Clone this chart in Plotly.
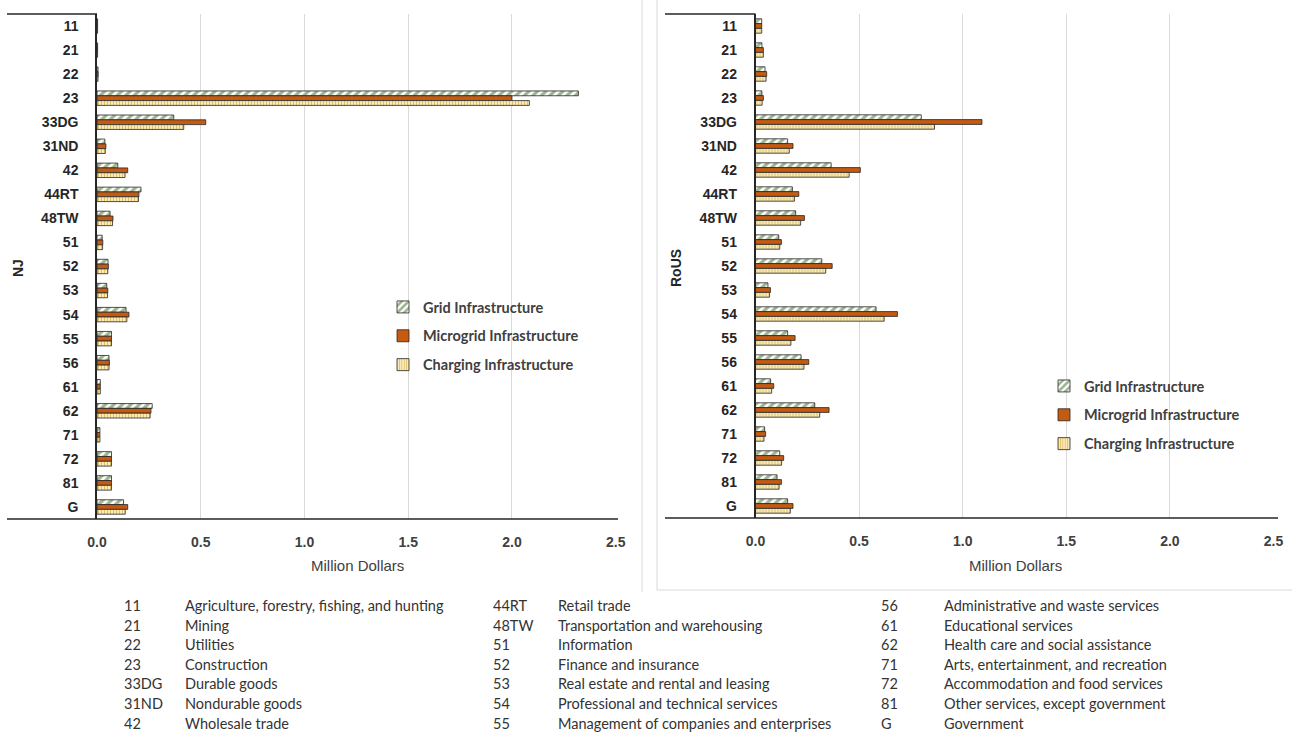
import plotly.graph_objects as go

categories = ["11", "21", "22", "23", "33DG", "31ND", "42", "44RT", "48TW", "51", "52",
              "53", "54", "55", "56", "61", "62", "71", "72", "81", "G"]
descriptions = ["Agriculture, forestry, fishing, and hunting", "Mining", "Utilities", "Construction",
                "Durable goods", "Nondurable goods", "Wholesale trade", "Retail trade",
                "Transportation and warehousing", "Information", "Finance and insurance",
                "Real estate and rental and leasing", "Professional and technical services",
                "Management of companies and enterprises", "Administrative and waste services",
                "Educational services", "Health care and social assistance",
                "Arts, entertainment, and recreation", "Accommodation and food services",
                "Other services, except government", "Government"]

series_names = ["Grid Infrastructure", "Microgrid Infrastructure", "Charging Infrastructure"]

nj_grid =      [0.003, 0.003, 0.005, 2.32, 0.37, 0.038, 0.10, 0.212, 0.063, 0.025, 0.053,
                0.047, 0.14, 0.07, 0.058, 0.016, 0.266, 0.014, 0.07, 0.07, 0.128]
nj_microgrid = [0.003, 0.003, 0.006, 2.00, 0.524, 0.043, 0.148, 0.202, 0.077, 0.028, 0.055,
                0.052, 0.154, 0.07, 0.06, 0.016, 0.26, 0.014, 0.07, 0.07, 0.148]
nj_charging =  [0.003, 0.003, 0.005, 2.084, 0.418, 0.04, 0.135, 0.20, 0.075, 0.027, 0.052,
                0.051, 0.144, 0.07, 0.058, 0.016, 0.256, 0.014, 0.07, 0.07, 0.136]

rous_grid =      [0.030, 0.031, 0.046, 0.031, 0.80, 0.155, 0.365, 0.178, 0.194, 0.112, 0.32,
                  0.060, 0.582, 0.155, 0.22, 0.073, 0.286, 0.044, 0.117, 0.104, 0.155]
rous_microgrid = [0.030, 0.038, 0.054, 0.038, 1.093, 0.181, 0.506, 0.209, 0.236, 0.125, 0.37,
                  0.072, 0.685, 0.191, 0.257, 0.088, 0.355, 0.049, 0.136, 0.125, 0.181]
rous_charging =  [0.030, 0.038, 0.051, 0.032, 0.864, 0.163, 0.452, 0.188, 0.218, 0.117, 0.339,
                  0.068, 0.621, 0.171, 0.234, 0.078, 0.31, 0.041, 0.126, 0.114, 0.168]

x_ticks = [0.0, 0.5, 1.0, 1.5, 2.0, 2.5]

W, H = 1292, 732


def fx(px):
    return px / W


def fy(py):
    return 1 - py / H


AXIS_FONT = "Liberation Sans Narrow, Arial Narrow, Liberation Sans, Arial, sans-serif"
TEXT_FONT = "Lato, Carlito, Calibri, sans-serif"
DARK = "#404040"

styles = [
    dict(color="white", line=dict(color="#262626", width=0.8),
         pattern=dict(shape="/", fgcolor="#3D6B27", bgcolor="white", size=6, solidity=0.55)),
    dict(color="#C55A11", line=dict(color="#262626", width=0.8)),
    dict(color="#FFF2CC", line=dict(color="#262626", width=0.8),
         pattern=dict(shape="|", fgcolor="#BF8F00", bgcolor="#FFF2CC", size=3, solidity=0.45)),
]

fig = go.Figure()
panels = [
    ("x", "y", "legend", [nj_grid, nj_microgrid, nj_charging]),
    ("x2", "y2", "legend2", [rous_grid, rous_microgrid, rous_charging]),
]
for xa, ya, lg, vals in panels:
    for i, (name, v) in enumerate(zip(series_names, vals)):
        fig.add_trace(go.Bar(
            y=categories, x=v, orientation="h", name=name, xaxis=xa, yaxis=ya,
            marker=styles[i], legend=lg, legendgroup=lg + str(i), showlegend=True,
        ))

tick_text = ["%.1f" % t for t in x_ticks]
xcommon = dict(range=[0, 2.5], tickvals=x_ticks, ticktext=["<b>%s</b>" % t for t in tick_text],
               showgrid=True, gridcolor="#d9d9d9", gridwidth=1, zeroline=False, showline=False,
               ticks="", ticklabelstandoff=13, tickfont=dict(family=AXIS_FONT, size=14, color=DARK),
               fixedrange=True, automargin=False)
ycommon = dict(type="category", range=[len(categories) - 0.5, -0.5], tickvals=categories,
               ticktext=["<b>%s</b>" % c for c in categories], showline=True, linecolor="#262626",
               linewidth=1.5, ticks="", ticklabelstandoff=14, showgrid=False, zeroline=False,
               tickfont=dict(family=AXIS_FONT, size=14, color="#262626"), fixedrange=True,
               automargin=False)

legend_common = dict(bgcolor="rgba(0,0,0,0)", font=dict(family=TEXT_FONT, size=14.5, color=DARK, weight="bold"),
                     tracegroupgap=7, itemwidth=30, traceorder="grouped", xanchor="left", yanchor="top")

fig.update_layout(
    width=W, height=H, margin=dict(l=0, r=0, t=0, b=0, autoexpand=False),
    paper_bgcolor="white", plot_bgcolor="white",
    barmode="group", bargap=0.4, bargroupgap=0,
    xaxis=dict(domain=[fx(97), fx(615.7)], anchor="y", **xcommon),
    yaxis=dict(domain=[fy(519), fy(14)], anchor="x", **ycommon),
    xaxis2=dict(domain=[fx(755.5), fx(1273.5)], anchor="y2", **xcommon),
    yaxis2=dict(domain=[fy(518), fy(14)], anchor="x2", **ycommon),
    legend=dict(x=fx(383), y=fy(291), **legend_common),
    legend2=dict(x=fx(1044), y=fy(370), **legend_common),
    showlegend=True,
)

line_dark = dict(color="#262626", width=1.5)
line_light = dict(color="#d9d9d9", width=1)
segments = [
    ((7, 14), (97, 14), line_dark),
    ((7, 519), (618, 519), line_dark),
    ((665, 14), (755.5, 14), line_dark),
    ((665, 518), (1278, 518), line_dark),
    ((642, 0), (642, 592), line_light),
    ((657, 0), (657, 590), line_light),
    ((657, 590), (1292, 590), line_light),
]
for (x0, y0), (x1, y1), ln in segments:
    fig.add_shape(type="line", xref="paper", yref="paper", x0=fx(x0), y0=fy(y0), x1=fx(x1), y1=fy(y1),
                  line=ln, layer="above")

# axis titles
for xpx, txt in [(357, "Million Dollars"), (1015, "Million Dollars")]:
    fig.add_annotation(x=fx(xpx), y=fy(565), xref="paper", yref="paper", text=txt, showarrow=False,
                       font=dict(family=AXIS_FONT, size=15, color=DARK), xanchor="center", yanchor="middle")
for xpx, txt in [(18, "NJ"), (676, "RoUS")]:
    fig.add_annotation(x=fx(xpx), y=fy(268), xref="paper", yref="paper", text="<b>%s</b>" % txt,
                       showarrow=False, textangle=-90,
                       font=dict(family=AXIS_FONT, size=14, color="#262626"), xanchor="center", yanchor="middle")

# code table
code_x = [122, 491, 879]
desc_x = [183, 556, 942]
for i, (code, desc) in enumerate(zip(categories, descriptions)):
    col, row = divmod(i, 7)
    ypx = 605.5 + row * 19.6
    fig.add_annotation(x=fx(code_x[col]), y=fy(ypx), xref="paper", yref="paper", text=code,
                       showarrow=False, xanchor="left", yanchor="middle",
                       font=dict(family=TEXT_FONT, size=14.5, color="#333333"))
    fig.add_annotation(x=fx(desc_x[col]), y=fy(ypx), xref="paper", yref="paper", text=desc,
                       showarrow=False, xanchor="left", yanchor="middle",
                       font=dict(family=TEXT_FONT, size=14.5, color="#333333"))

fig.write_html("out.html")
